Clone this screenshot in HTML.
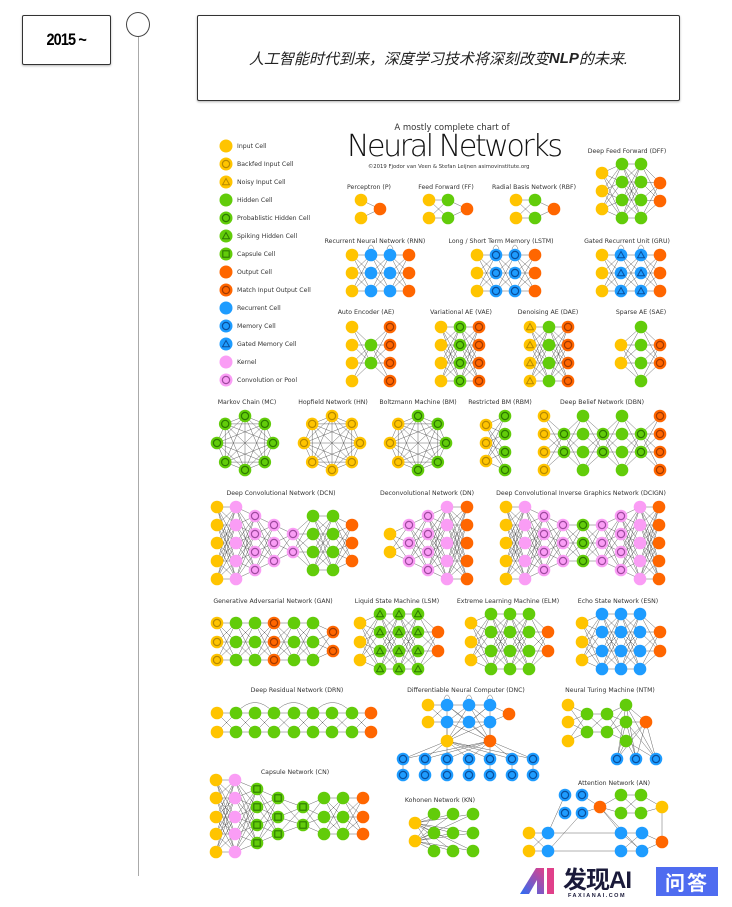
<!DOCTYPE html>
<html><head><meta charset="utf-8">
<style>
html,body{margin:0;padding:0;background:#fff;}
body{width:732px;height:907px;position:relative;overflow:hidden;font-family:"Liberation Sans","Noto Sans CJK SC",sans-serif;}
.yr{position:absolute;left:22px;top:15px;width:87px;height:48px;border:1px solid #333;border-radius:2px;box-shadow:0 1px 2px rgba(0,0,0,.3);display:flex;align-items:center;justify-content:center;}
.yr span{font:bold 17px "Liberation Sans",sans-serif;letter-spacing:-1px;display:inline-block;transform:scaleX(0.85);}
.vl{position:absolute;left:138px;top:36px;width:1px;height:840px;background:#aaa;}
.dot{position:absolute;left:126px;top:12px;width:22px;height:23px;border:1px solid #444;border-radius:50%;background:#fff;}
.tb{position:absolute;left:197px;top:15px;width:481px;height:84px;border:1px solid #333;border-radius:2px;box-shadow:0 1px 2px rgba(0,0,0,.3);display:flex;align-items:center;justify-content:center;font-size:15px;font-style:italic;color:#222;}
svg{position:absolute;left:0;top:0;}
.fx{position:absolute;left:563px;top:860px;font:bold 24px "Liberation Sans","Noto Sans CJK SC",sans-serif;color:#1a1a3a;letter-spacing:-1px;}
.fxs{position:absolute;left:568px;top:893px;font:bold 5.5px "Liberation Sans",sans-serif;color:#1a1a3a;letter-spacing:1.5px;}
.wd{position:absolute;left:656px;top:867px;width:62px;height:29px;background:#4f6cf0;color:#fff;font:bold 20px "Noto Sans CJK SC",sans-serif;display:flex;align-items:center;justify-content:center;letter-spacing:2px;}
</style></head><body>
<div class="yr"><span>2015 ~</span></div>
<div class="vl"></div>
<div class="dot"></div>
<div class="tb">人工智能时代到来，深度学习技术将深刻改变<b>NLP</b>的未来.</div>
<svg id="s" width="732" height="907" font-family="'DejaVu Sans','Liberation Sans',sans-serif" font-size="6.2" fill="#333">
<g id="ln" stroke="#666" stroke-width="0.5" fill="none"></g>
<g id="nd"></g>
<g id="tx">
<text x="452" y="130" text-anchor="middle" font-size="8.5">A mostly complete chart of</text>
<text x="347" y="156" font-size="30" textLength="216" fill="#111" font-weight="300">Neural Networks</text>
<text x="368" y="168" font-size="5.3">©2019 Fjodor van Veen &amp; Stefan Leijnen    asimovinstitute.org</text>
<text x="237" y="148">Input Cell</text>
<text x="237" y="166">Backfed Input Cell</text>
<text x="237" y="184">Noisy Input Cell</text>
<text x="237" y="202">Hidden Cell</text>
<text x="237" y="220">Probablistic Hidden Cell</text>
<text x="237" y="238">Spiking Hidden Cell</text>
<text x="237" y="256">Capsule Cell</text>
<text x="237" y="274">Output Cell</text>
<text x="237" y="292">Match Input Output Cell</text>
<text x="237" y="310">Recurrent Cell</text>
<text x="237" y="328">Memory Cell</text>
<text x="237" y="346">Gated Memory Cell</text>
<text x="237" y="364">Kernel</text>
<text x="237" y="382">Convolution or Pool</text>
<g text-anchor="middle">
<text x="369" y="189">Perceptron (P)</text>
<text x="446" y="189">Feed Forward (FF)</text>
<text x="534" y="189">Radial Basis Network (RBF)</text>
<text x="627" y="153">Deep Feed Forward (DFF)</text>
<text x="375" y="243">Recurrent Neural Network (RNN)</text>
<text x="501" y="243">Long / Short Term Memory (LSTM)</text>
<text x="627" y="243">Gated Recurrent Unit (GRU)</text>
<text x="366" y="314">Auto Encoder (AE)</text>
<text x="461" y="314">Variational AE (VAE)</text>
<text x="548" y="314">Denoising AE (DAE)</text>
<text x="641" y="314">Sparse AE (SAE)</text>
<text x="247" y="404">Markov Chain (MC)</text>
<text x="333" y="404">Hopfield Network (HN)</text>
<text x="418" y="404">Boltzmann Machine (BM)</text>
<text x="500" y="404">Restricted BM (RBM)</text>
<text x="602" y="404">Deep Belief Network (DBN)</text>
<text x="281" y="495">Deep Convolutional Network (DCN)</text>
<text x="427" y="495">Deconvolutional Network (DN)</text>
<text x="581" y="495">Deep Convolutional Inverse Graphics Network (DCIGN)</text>
<text x="273" y="603">Generative Adversarial Network (GAN)</text>
<text x="397" y="603">Liquid State Machine (LSM)</text>
<text x="508" y="603">Extreme Learning Machine (ELM)</text>
<text x="618" y="603">Echo State Network (ESN)</text>
<text x="297" y="692">Deep Residual Network (DRN)</text>
<text x="466" y="692">Differentiable Neural Computer (DNC)</text>
<text x="610" y="692">Neural Turing Machine (NTM)</text>
<text x="295" y="774">Capsule Network (CN)</text>
<text x="440" y="802">Kohonen Network (KN)</text>
<text x="614" y="785">Attention Network (AN)</text>
</g></g>
</svg>
<svg class="lg" width="40" height="32" style="left:518px;top:864px;">
<defs><linearGradient id="gg" x1="0" y1="1" x2="1" y2="0"><stop offset="0" stop-color="#2a6df5"/><stop offset="1" stop-color="#e0408a"/></linearGradient></defs>
<polygon points="2,30 18,4 26,4 26,30 19,30 19,16 11,30" fill="url(#gg)"/>
<rect x="29" y="4" width="7" height="26" fill="#e0408a"/>
</svg>
<div class="fx">发现AI</div>
<div class="fxs">FAXIANAI.COM</div>
<div class="wd">问答</div>
<script>
var NS="http://www.w3.org/2000/svg",LN=document.getElementById('ln'),ND=document.getElementById('nd');
var C={y:'#ffc400',g:'#62cc0a',o:'#ff6600',b:'#1e9cff',p:'#fa9df5'};
var D={y:'#b88a00',g:'#2d7a00',o:'#a33a00',b:'#0a4f9c',p:'#a04aa0'};
function el(n,a,p){var e=document.createElementNS(NS,n);for(var k in a)e.setAttribute(k,a[k]);p.appendChild(e);return e;}
function node(x,y,t,r){r=r||6.3;var c=t[0],m=t[1];el('circle',{cx:x,cy:y,r:r,fill:C[c]},ND);
 if(m=='r')el('circle',{cx:x,cy:y,r:3.6,fill:'none',stroke:D[c],'stroke-width':1.2},ND);
 if(m=='t')el('polygon',{points:(x-3.5)+','+(y+2.8)+' '+(x+3.5)+','+(y+2.8)+' '+x+','+(y-3.5),fill:'none',stroke:D[c],'stroke-width':1},ND);
 if(m=='s')el('rect',{x:x-3.2,y:y-3.2,width:6.4,height:6.4,fill:'none',stroke:D[c],'stroke-width':1.1},ND);}
function line(a,b,c,d){el('line',{x1:a,y1:b,x2:c,y2:d},LN);}
function net(L){for(var i=0;i<L.length-1;i++){var A=L[i],B=L[i+1];A[1].forEach(function(y1){B[1].forEach(function(y2){line(A[0],y1,B[0],y2);});});}
 L.forEach(function(l){l[1].forEach(function(y){node(l[0],y,l[2]);});});}
function ring(cx,cy,types){var P=[];for(var i=0;i<8;i++){var a=-Math.PI/2+i*Math.PI/4;P.push([cx+28*Math.cos(a),cy+27*Math.sin(a)]);}
 for(i=0;i<8;i++)for(var j=i+1;j<8;j++)line(P[i][0],P[i][1],P[j][0],P[j][1]);
 P.forEach(function(p,i){node(p[0],p[1],types[i]);});}
['y','yr','yt','g','gr','gt','gs','o','or','b','br','bt','p','pr'].forEach(function(t,i){node(226,146+18*i,t,6.5);});
var r2=[200,218],r3=[255,273,291],r4=[327,345,363,381];
net([[361,r2,'y'],[380,[209],'o']]);
net([[429,r2,'y'],[448,r2,'g'],[467,[209],'o']]);
net([[516,r2,'y'],[535,r2,'g'],[554,[209],'o']]);
var d4=[164,182,200,218];
net([[602,[173,191,209],'y'],[622,d4,'g'],[641,d4,'g'],[660,[183,201],'o']]);
net([[352,r3,'y'],[371,r3,'b'],[390,r3,'b'],[409,r3,'o']]);
net([[477,r3,'y'],[496,r3,'br'],[515,r3,'br'],[535,r3,'o']]);
net([[602,r3,'y'],[621,r3,'bt'],[641,r3,'bt'],[660,r3,'o']]);
[371,390,496,515,621,641].forEach(function(x){el('path',{d:'M'+(x-3)+' 249 q3 -8 6 0'},LN);});
net([[352,r4,'y'],[371,[345,363],'g'],[390,r4,'or']]);
net([[441,r4,'y'],[460,r4,'gr'],[479,r4,'or']]);
net([[530,r4,'yt'],[549,r4,'g'],[568,r4,'or']]);
net([[621,[345,363],'y'],[641,r4,'g'],[660,[345,363],'or']]);
ring(245,443,['gr','gr','gr','gr','gr','gr','gr','gr']);
ring(332,443,['yr','yr','yr','yr','yr','yr','yr','yr']);
ring(418,443,['gr','gr','gr','gr','gr','yr','yr','yr']);
var b4=[416,434,452,470],b2=[434,452];
net([[486,[425,443,461],'yr'],[505,b4,'gr']]);
net([[544,b4,'yr'],[564,b2,'gr'],[583,b4,'g'],[603,b2,'gr'],[622,b4,'g'],[641,b2,'gr'],[660,b4,'or']]);
var c5=[507,525,543,561,579],c4=[516,534,552,570],c3=[525,543,561],c2=[534,552];
net([[217,c5,'y'],[236,c5,'p'],[255,c4,'pr'],[274,c3,'pr'],[293,c2,'pr'],[313,c4,'g'],[333,c4,'g'],[352,c3,'o']]);
net([[390,c2,'y'],[409,c3,'pr'],[428,c4,'pr'],[447,c5,'p'],[467,c5,'o']]);
net([[506,c5,'y'],[525,c5,'p'],[544,c4,'pr'],[563,c3,'pr'],[583,c3,'gr'],[602,c3,'pr'],[621,c4,'pr'],[640,c5,'p'],[659,c5,'o']]);
var g3=[623,642,660],g4=[614,632,651,669],g2=[632,651];
net([[217,g3,'yr'],[236,g3,'g'],[255,g3,'g'],[274,g3,'or'],[294,g3,'g'],[313,g3,'g'],[333,g2,'or']]);
net([[360,g3,'y'],[380,g4,'gt'],[399,g4,'gt'],[418,g4,'gt'],[438,g2,'o']]);
net([[471,g3,'y'],[491,g4,'g'],[510,g4,'g'],[529,g4,'g'],[548,g2,'o']]);
net([[582,g3,'y'],[602,g4,'b'],[621,g4,'b'],[640,g4,'b'],[660,g2,'o']]);
var dr=[713,732];
net([[217,dr,'y'],[236,dr,'g'],[255,dr,'g'],[274,dr,'g'],[294,dr,'g'],[313,dr,'g'],[332,dr,'g'],[352,dr,'g'],[371,dr,'o']]);
[[236,274],[274,313],[313,352]].forEach(function(p){el('path',{d:'M'+p[0]+' 713 Q'+((p[0]+p[1])/2)+' 692 '+p[1]+' 713'},LN);});
var bot=[403,425,447,469,490,512,533];
bot.forEach(function(x){line(x,759,x,775);[447,490].forEach(function(m){line(m,741,x,759);});node(x,775,'br');});
[447,469,490].forEach(function(x){[705,722].forEach(function(y){line(x,y,447,741);line(x,y,490,741);});});
net([[428,[705,722],'y'],[447,[705,722],'b'],[469,[705,722],'b'],[490,[705,722],'b'],[509,[714],'o']]);
[447,469,490].forEach(function(x){el('path',{d:'M'+(x-3)+' 699 q3 -8 6 0'},LN);});
node(447,741,'y');node(490,741,'o');
bot.forEach(function(x){node(x,759,'br');});
[617,636,656].forEach(function(x){[705,722,741].forEach(function(y){line(626,y,x,759);});line(646,722,x,759);});
net([[568,[705,722,741],'y'],[587,[714,732],'g'],[607,[714,732],'g'],[626,[705,722,741],'g'],[646,[722],'o']]);
[617,636,656].forEach(function(x){node(x,759,'br');});
var n5=[780,798,817,834,852];
net([[216,n5,'y'],[235,n5,'p'],[257,[789,807,825,843],'gs'],[278,[798,817,834],'gs'],[303,[807,825],'gs'],[324,[798,817,834],'g'],[343,[798,817,834],'g'],[363,[798,817,834],'o']]);
net([[415,[823,841],'y'],[434,[814,833,851],'g']]);
[[453,[814,833,851],'g'],[473,[814,833,851],'g']].forEach(function(l){[823,841].forEach(function(y){l[1].forEach(function(y2){line(415,y,l[0],y2);});});l[1].forEach(function(y){node(l[0],y,'g');});});
line(548,833,565,795);line(548,851,582,813);line(548,833,621,833);line(548,851,621,851);
line(600,807,621,833);line(600,807,641,851);line(662,807,662,842);line(582,795,600,807);line(582,813,600,807);
net([[529,[833,851],'y'],[548,[833,851],'b']]);
net([[600,[807],'o'],[621,[795,813],'g'],[641,[795,813],'g'],[662,[807],'y']]);
net([[621,[833,851],'b'],[642,[833,851],'b'],[662,[842],'o']]);
node(565,795,'br');node(582,795,'br');node(565,813,'br');node(582,813,'br');
</script>
</body></html>
